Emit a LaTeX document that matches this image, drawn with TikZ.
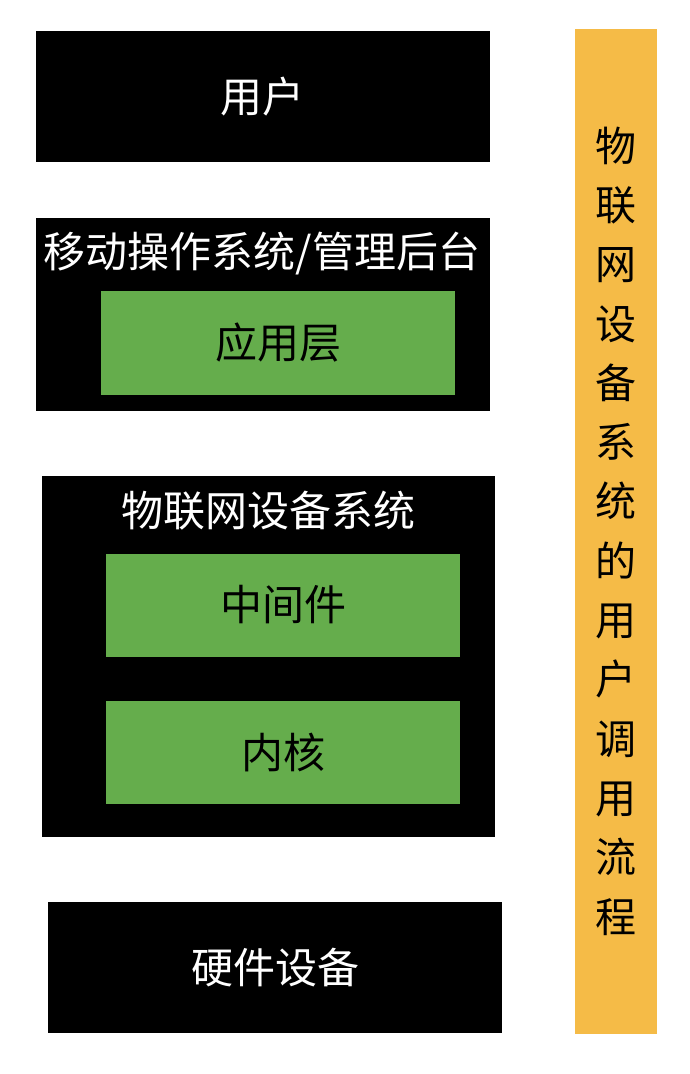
\documentclass[tikz,border=0pt]{standalone}
\usepackage{fontspec}
\newfontfamily\cjk{Noto Sans CJK SC}
\definecolor{boxgreen}{HTML}{65AD4C}
\definecolor{barorange}{HTML}{F5BB47}
\begin{document}
\begin{tikzpicture}[x=1pt,y=-1pt,
  blackbox/.style={fill=black,draw=none},
  greenbox/.style={fill=boxgreen,draw=none},
  wlabel/.style={text=white,font=\cjk\fontsize{42}{50}\selectfont,inner sep=0pt},
  blabel/.style={text=black,font=\cjk\fontsize{42}{50}\selectfont,inner sep=0pt}]
\useasboundingbox[fill=white] (0,0) rectangle (690,1074);
% user
\path[blackbox] (36,31) rectangle (490,162);
\node[wlabel] (user) at (262,97) {用户};
% mobile os
\path[blackbox] (36,218) rectangle (490,411);
\node[wlabel] (mos) at (262,254) {移动操作系统/管理后台};
\path[greenbox] (101,291) rectangle (455,395);
\node[blabel] (app) at (278,343) {应用层};
% iot system
\path[blackbox] (42,476) rectangle (495,837);
\node[wlabel] (iot) at (268,511) {物联网设备系统};
\path[greenbox] (106,554) rectangle (460,657);
\node[blabel] (mid) at (283,605) {中间件};
\path[greenbox] (106,701) rectangle (460,804);
\node[blabel] (kern) at (283,752) {内核};
% hardware
\path[blackbox] (48,902) rectangle (502,1033);
\node[wlabel] (hw) at (275,968) {硬件设备};
% orange bar
\path[fill=barorange] (575,29) rectangle (657,1034);
\node[blabel,align=center,font=\cjk\fontsize{41}{59.3}\selectfont] (flow) at (616,531)
 {物\\联\\网\\设\\备\\系\\统\\的\\用\\户\\调\\用\\流\\程};
\end{tikzpicture}
\end{document}
